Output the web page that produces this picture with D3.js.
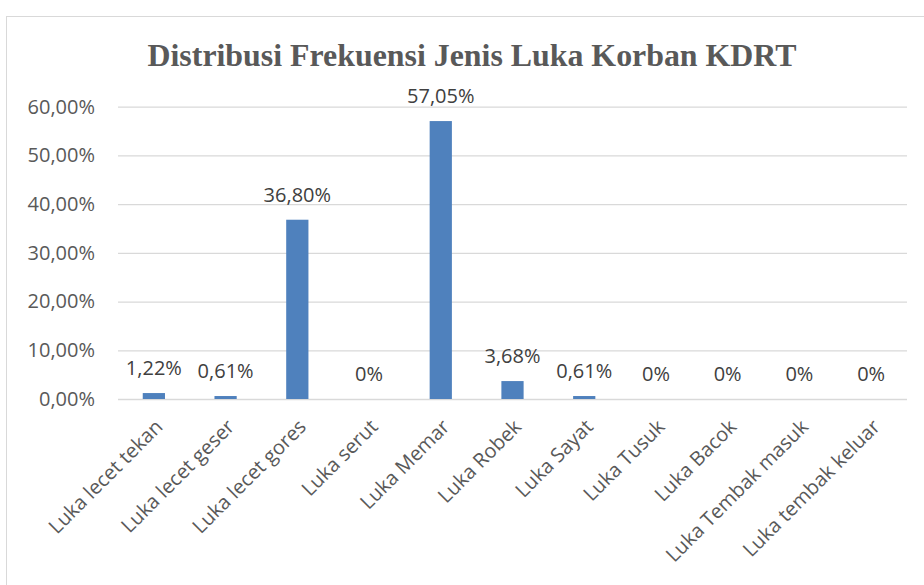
<!DOCTYPE html>
<html>
<head>
<meta charset="utf-8">
<script src="https://cdn.jsdelivr.net/npm/d3@7"></script>
<style>
  body { margin: 0; background: #fff; }
</style>
</head>
<body>
<div id="main"></div>
<script>

// datas

const categories = ['Luka lecet tekan', 'Luka lecet geser', 'Luka lecet gores', 'Luka serut', 'Luka Memar',
    'Luka Robek', 'Luka Sayat', 'Luka Tusuk', 'Luka Bacok', 'Luka Tembak masuk', 'Luka tembak keluar'];

const values = [1.22, 0.61, 36.80, 0, 57.05, 3.68, 0.61, 0, 0, 0, 0];

const yTicks = [0, 10, 20, 30, 40, 50, 60];

const w = 924;
const h = 585;
const font = '"Open Sans", sans-serif';

const svg = d3.select('#main').append('svg').attr('width', w).attr('height', h);

// frame
svg.append('rect')
    .attr('x', 6.5).attr('y', 16.5)
    .attr('width', 940).attr('height', 620)
    .attr('fill', '#fff')
    .attr('stroke', '#d9d9d9');

// title
svg.append('text')
    .attr('x', 472).attr('y', 66)
    .attr('text-anchor', 'middle')
    .attr('textLength', 649)
    .attr('lengthAdjust', 'spacingAndGlyphs')
    .style('font-family', '"Liberation Serif", "Times New Roman", serif')
    .style('font-weight', 'bold')
    .style('font-size', '30.5px')
    .attr('fill', '#595959')
    .text('Distribusi Frekuensi Jenis Luka Korban KDRT');

// scales
const x = d3.scaleBand().domain(categories).range([118, 907]).paddingInner(0.69).paddingOuter(0.345);
const y = d3.scaleLinear().domain([0, 60]).range([399, 106.7]);

const fmt = v => v === 0 ? '0%' : v.toFixed(2).replace('.', ',') + '%';

// gridlines + y axis
const yAxis = d3.axisLeft(y).tickValues(yTicks).tickSize(-(907 - 118))
    .tickFormat(d => d.toFixed(2).replace('.', ',') + '%');

const gy = svg.append('g').attr('transform', 'translate(118,0)').call(yAxis);
gy.select('.domain').remove();
gy.selectAll('line').attr('stroke', '#d9d9d9').attr('stroke-width', 1.3);
gy.selectAll('text')
    .attr('x', -23)
    .attr('fill', '#595959')
    .style('font-family', font)
    .style('font-size', '20px');

// bars
svg.append('g').selectAll('rect')
    .data(values)
    .enter()
    .append('rect')
    .attr('x', (d, i) => x(categories[i]))
    .attr('width', x.bandwidth())
    .attr('y', d => y(d))
    .attr('height', d => y(0) - y(d))
    .attr('fill', '#4f81bd');

// data labels
svg.append('g').selectAll('text')
    .data(values)
    .enter()
    .append('text')
    .attr('x', (d, i) => x(categories[i]) + x.bandwidth() / 2)
    .attr('y', d => y(d) - 18)
    .attr('text-anchor', 'middle')
    .attr('fill', '#404040')
    .style('font-family', font)
    .style('font-size', '20px')
    .text(d => fmt(d));

// x labels
svg.append('g').selectAll('text')
    .data(categories)
    .enter()
    .append('text')
    .attr('transform', d => 'translate(' + (x(d) + x.bandwidth() / 2) + ',418) rotate(-45)')
    .attr('dy', '0.71em')
    .attr('text-anchor', 'end')
    .attr('fill', '#595959')
    .style('font-family', font)
    .style('font-size', '20px')
    .text(d => d);

</script>
</body>
</html>
